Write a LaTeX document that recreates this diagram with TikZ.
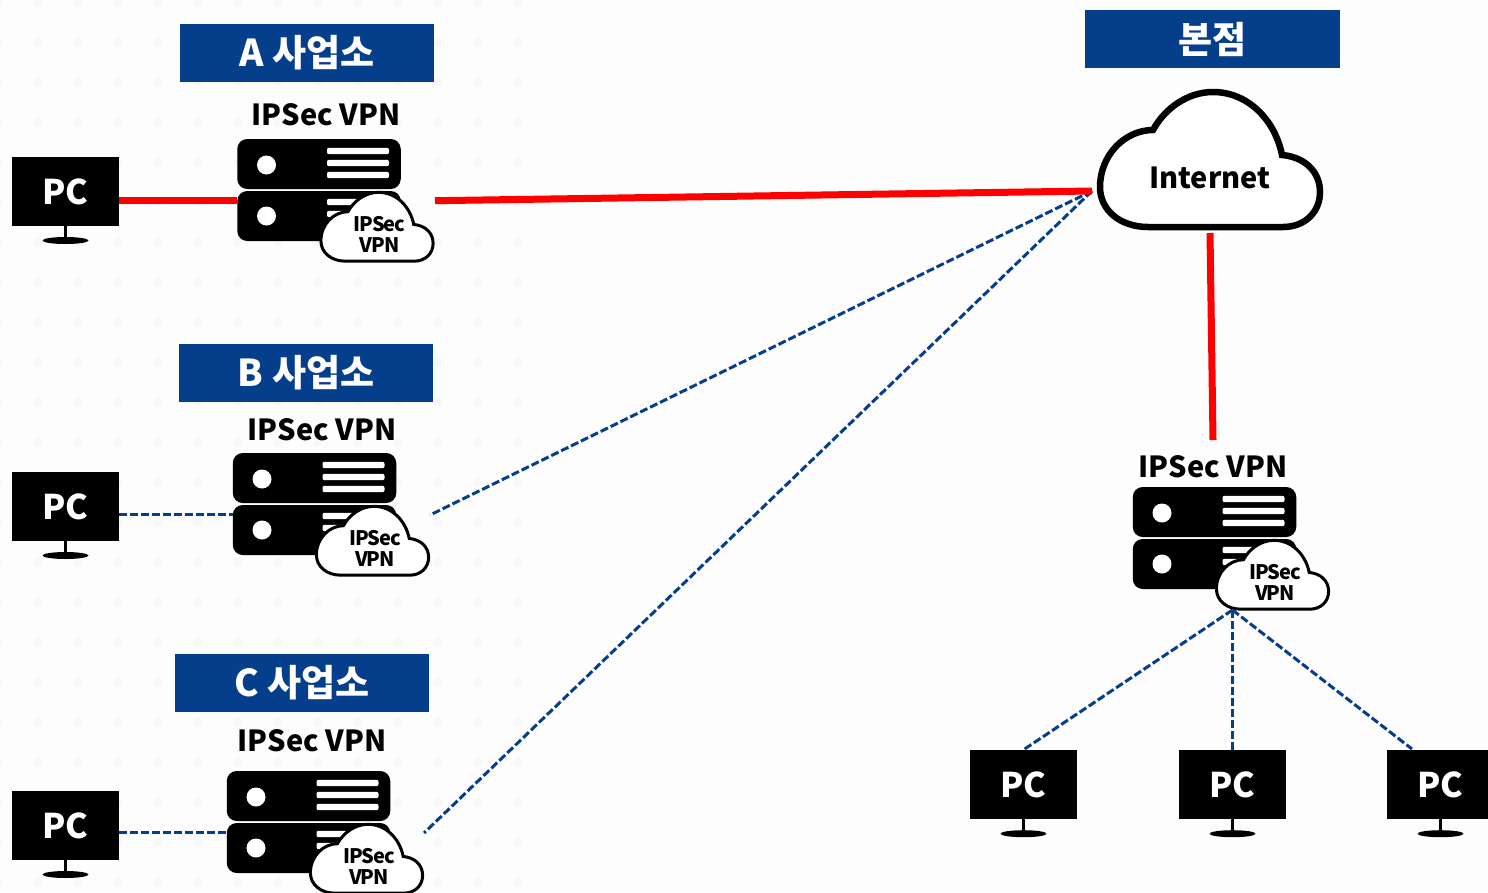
\documentclass[tikz,border=0pt]{standalone}
\usepackage{fontspec}
\setmainfont{Noto Sans CJK KR}
\newfontfamily\tightfont[LetterSpace=-5]{Noto Sans CJK KR}
\usetikzlibrary{calc,positioning}
\definecolor{hqblue}{HTML}{053F8B}
\definecolor{bgpaper}{HTML}{FDFDFD}
\definecolor{bgdot}{HTML}{F7F7F7}
\newcommand{\cloudshape}{(-62,67) .. controls (-90,67) and (-110,50) .. (-110,27)
  .. controls (-110,-5) and (-85,-30) .. (-57,-30)
  .. controls (-45,-52) and (-22,-68) .. (3,-68)
  .. controls (38,-68) and (65,-40) .. (72,-5)
  .. controls (95,-3) and (110,12) .. (110,32)
  .. controls (110,52) and (95,67) .. (73,67) -- cycle}
\begin{document}
\begin{tikzpicture}[
  x=1pt, y=-1pt,
  title/.style={fill=hqblue, text=white, font=\fontsize{37}{37}\selectfont\bfseries, minimum width=254pt, minimum height=58pt, inner sep=0pt},
  vpnlabel/.style={font=\fontsize{29}{29}\selectfont\bfseries, inner sep=0pt},
  screen/.style={fill=black, text=white, font=\fontsize{34}{34}\selectfont\bfseries, minimum width=107pt, minimum height=69.5pt, inner sep=0pt},
  srvbody/.style={fill=black, rounded corners=10pt, minimum width=163.5pt, minimum height=50pt, inner sep=0pt},
  redlink/.style={red, line width=7pt},
  bluelink/.style={hqblue, line width=3pt, dash pattern=on 8pt off 3pt},
  pcunit/.pic={
    \node[screen] (-screen) at (0,0) {PC};
    \fill[black] (-1.5,34) rectangle (1.5,47);
    \fill[black] (0,49) ellipse (23pt and 3.5pt);
  },
  vpnserver/.pic={
    \node[srvbody] (-upper) at (0,-26) {};
    \node[srvbody] (-lower) at (0,26) {};
    \foreach \ypos in {-39,-27,-15,12,24,36}
      \fill[white, rounded corners=2pt] (8,\ypos-3.2) rectangle (70,\ypos+3.2);
    \fill[white] (-52.5,-25) circle (9.5pt);
    \fill[white] (-52.5,26) circle (9.5pt);
    \begin{scope}[shift={(58,37)}, scale=.51]
      \draw[black, fill=white, line width=3pt] \cloudshape;
    \end{scope}
    \node[align=center, inner sep=0pt, font=\fontsize{20}{21}\selectfont\bfseries\tightfont] (-badge) at (60.5,44) {IPSec\\VPN};
    \coordinate (-port) at (-82,10.7);
    \coordinate (-out) at (116,10.7);
    \coordinate (-apex) at (18,72);
  }
]
\useasboundingbox (0,0) rectangle (1488,892);
\fill[bgpaper] (0,0) rectangle (1488,892);
\foreach \xpos in {-2,38,...,520}
  \foreach \ypos in {2,42,...,882}
    \fill[bgdot] (\xpos,\ypos) circle (4pt);

\node[title] (titlea) at (307,53) {A 사업소};
\node[title] (titleb) at (306,373) {B 사업소};
\node[title] (titlec) at (302,683) {C 사업소};
\node[title, minimum width=255pt] (titlehq) at (1212.5,39) {본점};

\node[vpnlabel] (labela) at (326,115) {IPSec VPN};
\node[vpnlabel] (labelb) at (322,430) {IPSec VPN};
\node[vpnlabel] (labelc) at (312,741) {IPSec VPN};
\node[vpnlabel] (labelhq) at (1213,467) {IPSec VPN};

\coordinate (inetwest) at (1092,191);
\coordinate (inetsouth) at (1210,233);
\coordinate (hqnorth) at (1213,440);
\coordinate (pcrtop) at (1412,749);

\draw[redlink] (inetsouth) -- (hqnorth);
\draw[bluelink] (inetwest) -- (430,515);
\draw[bluelink] (inetwest) -- (424,833);

\pic (srva) at (319,190) {vpnserver};
\pic (srvb) at (314.5,504) {vpnserver};
\pic (srvc) at (308.5,822) {vpnserver};
\pic (srvhq) at (1214.5,538) {vpnserver};

\pic (pca) at (65.5,191.5) {pcunit};
\pic (pcb) at (65.5,506.5) {pcunit};
\pic (pcc) at (65.5,825.5) {pcunit};
\pic (pcl) at (1023.5,784.7) {pcunit};
\pic (pcm) at (1232.5,784.7) {pcunit};
\pic (pcr) at (1440.5,784.7) {pcunit};

\begin{scope}[shift={(1210,160)}]
  \draw[black, fill=white, line width=6.5pt] \cloudshape;
\end{scope}
\node[font=\fontsize{29}{29}\selectfont\bfseries, inner sep=0pt] (internet) at (1210,178) {Internet};

\draw[redlink] (pca-screen.east |- srva-port) -- (srva-port);
\draw[redlink] (srva-out) -- (inetwest);
\draw[bluelink] (pcb-screen.east |- srvb-port) -- (srvb-port);
\draw[bluelink] (pcc-screen.east |- srvc-port) -- (srvc-port);
\draw[bluelink] (srvhq-apex) -- (pcl-screen.north);
\draw[bluelink] (srvhq-apex) -- (pcm-screen.north);
\draw[bluelink] (srvhq-apex) -- (pcrtop);
\end{tikzpicture}
\end{document}
